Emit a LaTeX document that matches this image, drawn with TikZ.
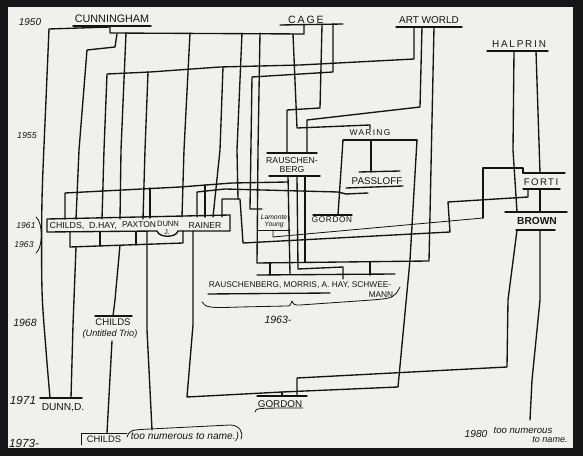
\documentclass[tikz,border=0pt]{standalone}
\usepackage{fontspec}
\setmainfont{Liberation Sans}
\definecolor{framec}{RGB}{22,22,24}
\definecolor{paperc}{RGB}{240,240,236}
\definecolor{inkc}{RGB}{20,20,20}
\newcommand\handsz[1]{\fontsize{#1}{#1}\selectfont}
\newcommand\spread[1]{\addfontfeature{LetterSpace=#1}}
\begin{document}
\begin{tikzpicture}[x=0.03cm,y=-0.03cm,
    ink/.style={line width=1.15pt,draw=inkc,line cap=round,line join=round},
    thinink/.style={ink,line width=0.7pt},
    who/.style={inner sep=0pt,text=inkc,font=\handsz{8.5}},
    remark/.style={inner sep=0pt,text=inkc,font=\handsz{7.5}\itshape},
    yr/.style={inner sep=0pt,text=inkc,font=\handsz{8.5}\itshape}
]
    % sheet
    \fill[framec] (0,0) rectangle (583,456);
    \fill[paperc] (8,7) rectangle (573,448);
    \useasboundingbox (0,0) rectangle (583,456);

    % names
    \node[yr] (y1950) at (30,22) {1950};
    \node[who,font=\handsz{9.2}] (cunningham) at (112,19) {CUNNINGHAM};
    \node[who,font=\handsz{9}\spread{18}] (cage) at (306,20) {CAGE};
    \node[who,font=\handsz{8.5}] (artworld) at (429,20) {ART WORLD};
    \node[who,font=\handsz{8.5}\spread{18}] (halprin) at (519,44) {HALPRIN};
    \node[yr,font=\handsz{7.5}\itshape] (y1955) at (27,135) {1955};
    \node[who,font=\handsz{7.2}\spread{15}] (waring) at (370,133) {WARING};
    \node[who,font=\handsz{7.4},align=center] (rauschen) at (292,165) {RAUSCHEN-\\BERG};
    \node[who,font=\handsz{8.4}] (passloff) at (377,181) {PASSLOFF};
    \node[who,font=\handsz{7}\spread{8}] (gordonm) at (332,220) {GORDON};
    \node[remark,font=\handsz{5.8}\itshape,align=center] (lamonte) at (274,221) {Lamonte\\Young};
    \node[who,font=\handsz{8.2}\spread{15}] (forti) at (541,182) {FORTI};
    \node[who,font=\handsz{8.7}\bfseries] (brown) at (537,221) {BROWN};

    % 1961-1963 group
    \node[yr,font=\handsz{7.3}\itshape] (y1961) at (26,226) {1961};
    \node[yr,font=\handsz{7.3}\itshape] (y1963) at (24,245) {1963};
    \node[who,font=\handsz{7.5}] (childs61) at (67,226) {CHILDS,};
    \node[who,font=\handsz{7.5}] (dhay) at (103,226) {D.HAY,};
    \node[who,font=\handsz{7.2}] (paxton) at (139,225) {PAXTON};
    \node[who,font=\handsz{6.5}] (dunnj) at (168,224) {DUNN};
    \node[who,font=\handsz{6}] (jdot) at (167,232) {J.};
    \node[who,font=\handsz{7.4}] (rainer) at (205,226) {RAINER};

    \node[who,font=\handsz{7.1}] (rmrow) at (300,285) {RAUSCHENBERG, MORRIS, A. HAY, SCHWEE-};
    \node[who,font=\handsz{7.1}] (mann) at (381,295) {MANN};
    \node[yr,font=\handsz{9}\itshape] (y1963b) at (278,320) {1963-};
    \node[yr,font=\handsz{9}\itshape] (y1968) at (25,323) {1968};
    \node[who,font=\handsz{8.2}] (childsut) at (113,322) {CHILDS};
    \node[remark,font=\handsz{7.8}\itshape] (untitled) at (110,334) {(Untitled Trio)};
    \node[yr,font=\handsz{10}\itshape] (y1971) at (23,400) {1971};
    \node[who,font=\handsz{8.7}] (dunnd) at (63,408) {DUNN,D.};
    \node[who,font=\handsz{8.4}] (gordonb) at (280,404) {GORDON};
    \node[yr,font=\handsz{10}\itshape] (y1973) at (24,443) {1973-};
    \node[who,font=\handsz{8}] (childsb) at (104,439) {CHILDS};
    \node[remark,font=\handsz{8.7}\itshape] (numerous) at (185,437) {too numerous to name.)};
    \node[yr,font=\handsz{8.7}\itshape] (y1980) at (476,434) {1980};
    \node[remark,font=\handsz{8.2}\itshape] (numerous2) at (523,430) {too numerous};
    \node[remark,font=\handsz{7.7}\itshape] (toname) at (550,440) {to name.};

    % underlines and bars of the names
    \draw[ink] (73,26) -- (151,26);
    \draw[ink] (280,25) -- (343,24);
    \draw[ink] (396,27) -- (462,27);
    \draw[ink] (487,51) -- (548,51);
    \draw[ink] (343,140) -- (417,140);
    \draw[ink] (267,153) -- (317,153);
    \draw[ink] (269,176) -- (320,176);
    \draw[ink] (359,172) -- (400,171);
    \draw[ink] (346,188) -- (403,186);
    \draw[ink] (346,194) -- (368,193);
    \draw[ink] (313,215) -- (352,215);
    \draw[thinink] (258,230) -- (290,230);
    \draw[ink] (523,173) -- (565,173);
    \draw[ink] (523,189) -- (560,189);
    \draw[ink] (505,212) -- (567,212);
    \draw[ink] (516,230) -- (555,230);
    \draw[ink] (257,275) -- (395,274);
    \draw[ink] (208,294) -- (330,293);
    \draw[ink] (95,316) -- (132,316);
    \draw[ink] (40,398) -- (82,398);
    \draw[ink] (257,396) -- (307,396);
    \draw[thinink] (255,412) .. controls (256,408) .. (303,408);
    \draw[thinink] (81,445) -- (81,433) -- (127,433);

    % the 1961 box
    \coordinate (boxNW) at (47,219);
    \coordinate (boxNE) at (230,215);
    \draw[ink] (boxNW) -- (boxNE) -- (230,231) -- (178,231)
        .. controls (176,238) and (159,238) .. (157,231) -- (47,232) -- cycle;
    \draw[thinink] (36,217) .. controls (43,222) and (43,248) .. (36,253);

    % brace under the 1963 group
    \draw[thinink] (202,302) .. controls (205,308) and (212,308) .. (240,307)
        -- (286,306) .. controls (290,306) .. (292,301)
        .. controls (294,305) .. (300,305) -- (372,300)
        .. controls (394,298) .. (400,287);
    % bracket over too numerous
    \draw[thinink] (127,437) .. controls (130,430) .. (150,429) -- (230,425)
        .. controls (239,425) and (244,432) .. (241,439);

    % Cunningham and Cage rail
    \draw[ink] (49,29) -- (110,27) -- (110,33) -- (304,34) -- (304,25);
    \draw[ink] plot[smooth] coordinates {(49,29) (46,100) (42,200) (42,290) (46,350) (50,398)};
    \draw[ink] (117,34) -- (115,47) -- (87,50) -- (79,150) -- (76,219);
    \draw[ink] (126,33) -- (121,150) -- (120,219);
    \draw[ink] (190,33) -- (184,150) -- (182,217);
    \draw[ink] (242,33) -- (237,150) -- (238,199);
    \draw[ink] (260,33) -- (258,150) -- (257,263) -- (429,261) -- (434,27);
    \draw[ink] (270,263) -- (270,275);
    \draw[ink] (370,262) -- (370,275);

    % Art World branches
    \draw[ink] (414,27) -- (414,59) -- (300,65) -- (220,67) -- (150,72)
        -- (107,74) -- (104,150) -- (102,219);
    \draw[ink] (148,72) -- (145,150) -- (143,219);
    \draw[ink] (223,67) -- (220,150) -- (213,217);
    \draw[ink] (422,27) -- (420,107) -- (307,120) -- (307,153);
    \draw[ink] (305,176) -- (305,262);

    % Cage branches
    \draw[ink] (333,24) -- (333,72) -- (252,77) -- (250,209) -- (262,209);
    \draw[ink] (322,25) -- (320,108) -- (287,110) -- (287,153);
    \draw[ink] (293,34) -- (297,128) -- (370,125) -- (370,129);

    % Rauschenberg down to the 1963 group
    \draw[ink] (288,176) -- (290,274);
    \draw[ink] (297,176) -- (298,269) -- (343,267) -- (343,279);

    % Waring
    \draw[ink] (343,140) -- (338,215);
    \draw[ink] (371,140) -- (371,172);

    % cross lines to the 1961 box
    \draw[ink] (65,219) -- (65,193) -- (180,187) -- (232,183) -- (288,182);
    \draw[ink] (150,188) -- (150,218);
    \draw[ink] (205,185) -- (205,217);
    \draw[ink] (197,217) -- (197,192) -- (225,189) -- (338,192) -- (346,194);

    % below the 1961 box
    \draw[ink] (70,232) -- (70,247) -- (183,243) -- (183,231);
    \draw[ink] (100,232) -- (100,246);
    \draw[ink] (136,232) -- (136,245);
    \draw[ink] (76,247) -- (73,325) -- (71,398);
    \draw[ink] (120,245) -- (115,300) -- (113,316);
    \draw[ink] (112,341) -- (107,433);
    \draw[ink] (147,232) -- (147,330) -- (152,430);
    \draw[ink] (193,231) -- (193,325) -- (187,397) -- (282,392) -- (398,387)
        -- (410,260) -- (417,140);
    \draw[ink] (282,392) -- (282,396);

    % Forti and Rainer
    \draw[ink] (222,217) -- (222,199) -- (240,199) -- (243,243) -- (450,232)
        -- (448,202) -- (528,197) -- (528,189);
    \draw[ink] (483,218) -- (483,168) -- (523,168) -- (523,173);
    \draw[thinink] (483,218) -- (273,237) -- (273,230);

    % Halprin and Brown
    \draw[ink] (514,51) -- (513,150) -- (517,212);
    \draw[ink] (536,51) -- (540,173);
    \draw[ink] (540,189) -- (540,212);
    \draw[ink] (540,230) -- (540,300) -- (532,380) -- (530,420);
    \draw[ink] (517,230) -- (508,300) -- (507,367) -- (297,378) -- (297,396);
\end{tikzpicture}
\end{document}
